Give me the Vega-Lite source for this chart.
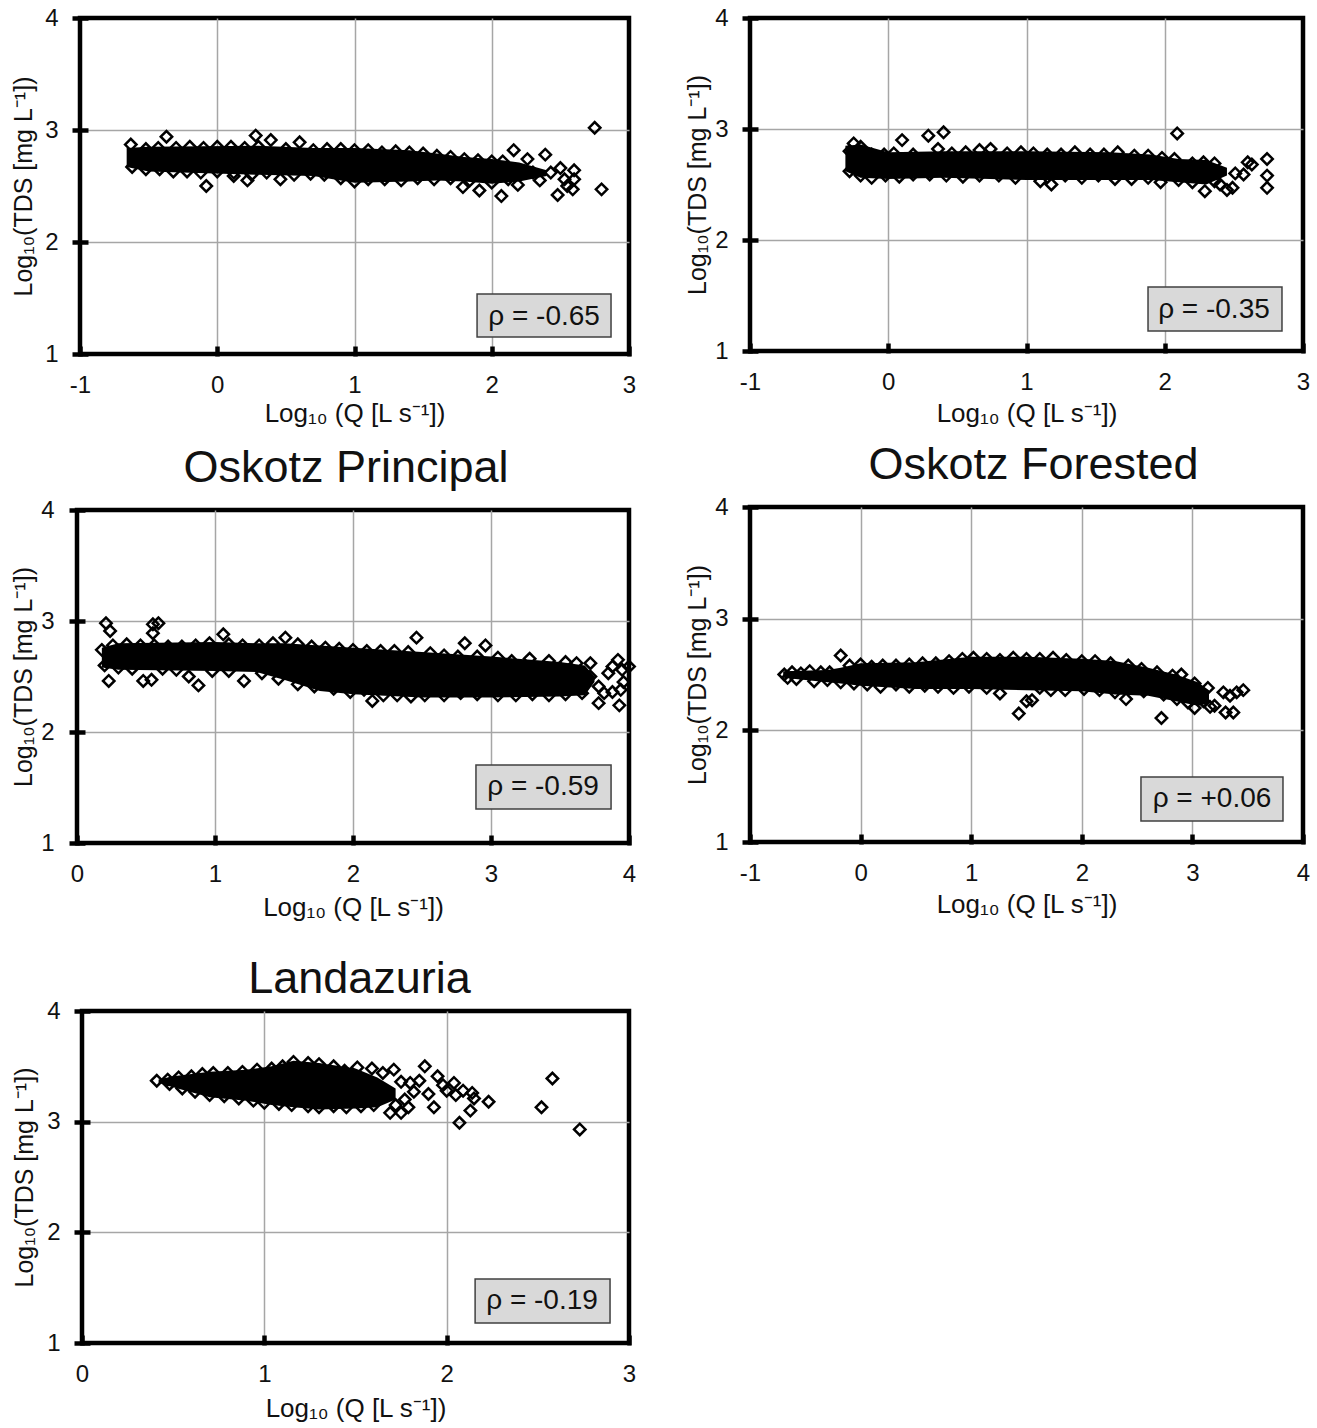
{"$schema":"https://vega.github.io/schema/vega-lite/v6.json","background":"white","padding":{"left":3,"top":3,"right":0,"bottom":0},
"config":{"font":"Liberation Sans","view":{"stroke":"#000","strokeWidth":4.5},"axis":{"grid":true,"gridColor":"#a6a6a6","gridWidth":1.5,"domain":false,"tickColor":"#000","tickWidth":4.5,"labelFontSize":24,"labelColor":"#111","titleFontWeight":"normal","titleColor":"#111","labelFlush":false,"labelOverlap":false,"labelExpr":"''+datum.value"},"axisX":{"titleFontSize":26},"axisY":{"titleFontSize":25},"title":{"fontSize":45,"fontWeight":"normal","color":"#111","offset":7}},
"spacing":41,
"hconcat":[{"spacing":31,"vconcat":[{"spacing":14,"vconcat":[{"spacing":0,"hconcat":[
{"width":2,"height":1,"view":{"stroke":null},"data":{"values":[{"q":0}]},"mark":{"type":"point","opacity":0},"encoding":{}},
{"width":549,"height":336,
"encoding":{"x":{"field":"q","type":"quantitative","scale":{"domain":[-1,3],"nice":false,"zero":false},"axis":{"title":"Log₁₀ (Q [L s⁻¹])","values":[-1,0,1,2,3],"offset":-8,"tickSize":10,"labelPadding":17,"titlePadding":3,"gridOpacity":{"condition":{"test":"datum.value==-1||datum.value==3","value":0},"value":1}}},"y":{"field":"t","type":"quantitative","scale":{"domain":[1,4],"nice":false,"zero":false},"axis":{"title":"Log₁₀(TDS [mg L⁻¹])","values":[1,2,3,4],"offset":-8,"tickSize":16,"labelPadding":14,"titlePadding":8,"gridOpacity":{"condition":{"test":"datum.value==1||datum.value==4","value":0},"value":1}}}},
"layer":[
{"data":{"values":[{"q":-0.66,"t":2.84,"t2":2.67},{"q":-0.5,"t":2.85,"t2":2.63},{"q":0.3,"t":2.86,"t2":2.6},{"q":0.7,"t":2.84,"t2":2.59},{"q":1,"t":2.84,"t2":2.53},{"q":1.4,"t":2.82,"t2":2.54},{"q":1.6,"t":2.79,"t2":2.55},{"q":1.8,"t":2.76,"t2":2.54},{"q":2,"t":2.74,"t2":2.52},{"q":2.2,"t":2.71,"t2":2.54},{"q":2.4,"t":2.64,"t2":2.59}]},"mark":{"type":"area","color":"#000"},"encoding":{"y2":{"field":"t2"}}},
{"data":{"values":[{"q":-0.63,"t":2.87},{"q":-0.52,"t":2.83},{"q":-0.43,"t":2.84},{"q":-0.37,"t":2.94},{"q":-0.3,"t":2.84},{"q":-0.2,"t":2.85},{"q":-0.1,"t":2.84},{"q":0,"t":2.85},{"q":0.1,"t":2.85},{"q":0.2,"t":2.84},{"q":0.28,"t":2.95},{"q":0.3,"t":2.85},{"q":0.39,"t":2.91},{"q":0.5,"t":2.83},{"q":0.6,"t":2.89},{"q":0.7,"t":2.82},{"q":0.8,"t":2.83},{"q":0.9,"t":2.83},{"q":1,"t":2.82},{"q":1.1,"t":2.82},{"q":1.2,"t":2.8},{"q":1.3,"t":2.81},{"q":1.4,"t":2.8},{"q":1.5,"t":2.79},{"q":1.6,"t":2.77},{"q":1.7,"t":2.76},{"q":1.8,"t":2.74},{"q":1.9,"t":2.73},{"q":2,"t":2.72},{"q":2.08,"t":2.72},{"q":2.16,"t":2.82},{"q":2.26,"t":2.74},{"q":2.39,"t":2.78},{"q":2.75,"t":3.02},{"q":2.8,"t":2.47},{"q":2.07,"t":2.41},{"q":2.48,"t":2.42},{"q":2.59,"t":2.47},{"q":2.6,"t":2.64},{"q":2.5,"t":2.66},{"q":2.6,"t":2.56},{"q":2.53,"t":2.56},{"q":2.55,"t":2.5},{"q":2.43,"t":2.62},{"q":2.35,"t":2.55},{"q":2.19,"t":2.51},{"q":1.91,"t":2.46},{"q":1.79,"t":2.49},{"q":2.3,"t":2.62},{"q":2.2,"t":2.63},{"q":-0.08,"t":2.5},{"q":0.46,"t":2.56},{"q":0.22,"t":2.55},{"q":0.12,"t":2.59},{"q":-0.62,"t":2.67},{"q":-0.52,"t":2.65},{"q":-0.42,"t":2.65},{"q":-0.32,"t":2.63},{"q":-0.22,"t":2.63},{"q":-0.12,"t":2.62},{"q":0,"t":2.63},{"q":0.12,"t":2.62},{"q":0.25,"t":2.6},{"q":0.36,"t":2.62},{"q":0.56,"t":2.6},{"q":0.68,"t":2.61},{"q":0.78,"t":2.6},{"q":0.9,"t":2.57},{"q":1,"t":2.54},{"q":1.1,"t":2.56},{"q":1.22,"t":2.56},{"q":1.34,"t":2.55},{"q":1.46,"t":2.57},{"q":1.58,"t":2.56},{"q":1.7,"t":2.57},{"q":1.84,"t":2.55},{"q":2,"t":2.53},{"q":2.12,"t":2.56}]},"mark":{"type":"point","shape":"diamond","size":130,"filled":false,"stroke":"#000","strokeWidth":2.5,"opacity":1}},
{"data":{"values":[{"q":1.893,"q2":2.869,"t":1.536,"t2":1.152}]},"mark":{"type":"rect","fill":"#d9d9d9","stroke":"#404040","strokeWidth":1.5},"encoding":{"x2":{"field":"q2"},"y2":{"field":"t2"}}},
{"data":{"values":[{"q":2.381,"t":1.33,"label":"ρ = -0.65"}]},"mark":{"type":"text","fontSize":28,"color":"#111"},"encoding":{"text":{"field":"label"}}}
]}]},{"spacing":0,"hconcat":[
{"width":2,"height":1,"view":{"stroke":null},"data":{"values":[{"q":0}]},"mark":{"type":"point","opacity":0},"encoding":{}},
{"width":552,"height":333,"title":{"text":"Oskotz Principal","dx":-7},
"encoding":{"x":{"field":"q","type":"quantitative","scale":{"domain":[0,4],"nice":false,"zero":false},"axis":{"title":"Log₁₀ (Q [L s⁻¹])","values":[0,1,2,3,4],"offset":-8,"tickSize":10,"labelPadding":17,"titlePadding":8,"gridOpacity":{"condition":{"test":"datum.value==0||datum.value==4","value":0},"value":1}}},"y":{"field":"t","type":"quantitative","scale":{"domain":[1,4],"nice":false,"zero":false},"axis":{"title":"Log₁₀(TDS [mg L⁻¹])","values":[1,2,3,4],"offset":-8,"tickSize":16,"labelPadding":15,"titlePadding":4,"gridOpacity":{"condition":{"test":"datum.value==1||datum.value==4","value":0},"value":1}}}},
"layer":[
{"data":{"values":[{"q":0.18,"t":2.76,"t2":2.58},{"q":0.3,"t":2.8,"t2":2.56},{"q":1,"t":2.81,"t2":2.55},{"q":1.3,"t":2.8,"t2":2.54},{"q":1.5,"t":2.8,"t2":2.47},{"q":1.76,"t":2.78,"t2":2.37},{"q":2,"t":2.76,"t2":2.34},{"q":2.5,"t":2.72,"t2":2.31},{"q":3,"t":2.68,"t2":2.31},{"q":3.5,"t":2.63,"t2":2.32},{"q":3.68,"t":2.6,"t2":2.33},{"q":3.75,"t":2.5,"t2":2.45}]},"mark":{"type":"area","color":"#000"},"encoding":{"y2":{"field":"t2"}}},
{"data":{"values":[{"q":0.18,"t":2.74},{"q":0.26,"t":2.78},{"q":0.36,"t":2.79},{"q":0.46,"t":2.78},{"q":0.56,"t":2.78},{"q":0.66,"t":2.77},{"q":0.76,"t":2.77},{"q":0.86,"t":2.78},{"q":0.96,"t":2.8},{"q":1.1,"t":2.79},{"q":1.2,"t":2.78},{"q":1.32,"t":2.78},{"q":1.42,"t":2.8},{"q":1.6,"t":2.79},{"q":1.7,"t":2.77},{"q":1.8,"t":2.76},{"q":1.9,"t":2.75},{"q":2,"t":2.74},{"q":2.1,"t":2.73},{"q":2.2,"t":2.73},{"q":2.3,"t":2.73},{"q":2.4,"t":2.72},{"q":2.56,"t":2.71},{"q":2.66,"t":2.69},{"q":2.76,"t":2.68},{"q":2.9,"t":2.68},{"q":3.05,"t":2.67},{"q":3.15,"t":2.64},{"q":3.28,"t":2.66},{"q":3.42,"t":2.64},{"q":3.54,"t":2.63},{"q":3.62,"t":2.62},{"q":0.21,"t":2.98},{"q":0.24,"t":2.91},{"q":0.59,"t":2.98},{"q":0.55,"t":2.97},{"q":0.55,"t":2.89},{"q":0.23,"t":2.46},{"q":0.48,"t":2.46},{"q":0.54,"t":2.47},{"q":0.88,"t":2.42},{"q":0.81,"t":2.5},{"q":1.21,"t":2.46},{"q":1.06,"t":2.88},{"q":1.51,"t":2.85},{"q":2.46,"t":2.85},{"q":2.81,"t":2.8},{"q":2.96,"t":2.78},{"q":2.14,"t":2.28},{"q":3.78,"t":2.26},{"q":3.93,"t":2.24},{"q":3.82,"t":2.35},{"q":3.88,"t":2.36},{"q":3.96,"t":2.45},{"q":3.85,"t":2.53},{"q":3.92,"t":2.65},{"q":4,"t":2.59},{"q":3.88,"t":2.59},{"q":3.95,"t":2.56},{"q":3.72,"t":2.62},{"q":3.78,"t":2.41},{"q":3.94,"t":2.38},{"q":0.2,"t":2.6},{"q":0.3,"t":2.58},{"q":0.4,"t":2.57},{"q":0.62,"t":2.57},{"q":0.72,"t":2.56},{"q":0.98,"t":2.55},{"q":1.1,"t":2.55},{"q":1.34,"t":2.53},{"q":1.46,"t":2.48},{"q":1.6,"t":2.43},{"q":1.72,"t":2.41},{"q":1.86,"t":2.39},{"q":1.98,"t":2.36},{"q":2.08,"t":2.38},{"q":2.22,"t":2.33},{"q":2.32,"t":2.33},{"q":2.42,"t":2.32},{"q":2.52,"t":2.33},{"q":2.66,"t":2.33},{"q":2.78,"t":2.35},{"q":2.9,"t":2.34},{"q":3.05,"t":2.33},{"q":3.18,"t":2.33},{"q":3.3,"t":2.34},{"q":3.42,"t":2.33},{"q":3.54,"t":2.34},{"q":3.66,"t":2.35},{"q":3.72,"t":2.5}]},"mark":{"type":"point","shape":"diamond","size":130,"filled":false,"stroke":"#000","strokeWidth":2.5,"opacity":1}},
{"data":{"values":[{"q":2.891,"q2":3.87,"t":1.703,"t2":1.306}]},"mark":{"type":"rect","fill":"#d9d9d9","stroke":"#404040","strokeWidth":1.5},"encoding":{"x2":{"field":"q2"},"y2":{"field":"t2"}}},
{"data":{"values":[{"q":3.377,"t":1.505,"label":"ρ = -0.59"}]},"mark":{"type":"text","fontSize":28,"color":"#111"},"encoding":{"text":{"field":"label"}}}
]}]}]},{"spacing":0,"hconcat":[
{"width":4,"height":1,"view":{"stroke":null},"data":{"values":[{"q":0}]},"mark":{"type":"point","opacity":0},"encoding":{}},
{"width":547,"height":332,"title":{"text":"Landazuria","dx":4,"offset":-3},
"encoding":{"x":{"field":"q","type":"quantitative","scale":{"domain":[0,3],"nice":false,"zero":false},"axis":{"title":"Log₁₀ (Q [L s⁻¹])","values":[0,1,2,3],"offset":-8,"tickSize":10,"labelPadding":17,"titlePadding":9,"gridOpacity":{"condition":{"test":"datum.value==0||datum.value==3","value":0},"value":1}}},"y":{"field":"t","type":"quantitative","scale":{"domain":[1,4],"nice":false,"zero":false},"axis":{"title":"Log₁₀(TDS [mg L⁻¹])","values":[1,2,3,4],"offset":-8,"tickSize":16,"labelPadding":14,"titlePadding":9,"gridOpacity":{"condition":{"test":"datum.value==1||datum.value==4","value":0},"value":1}}}},
"layer":[
{"data":{"values":[{"q":0.42,"t":3.38,"t2":3.35},{"q":0.5,"t":3.41,"t2":3.31},{"q":0.7,"t":3.45,"t2":3.22},{"q":0.9,"t":3.47,"t2":3.19},{"q":1.04,"t":3.5,"t2":3.15},{"q":1.16,"t":3.55,"t2":3.13},{"q":1.3,"t":3.53,"t2":3.11},{"q":1.5,"t":3.48,"t2":3.12},{"q":1.62,"t":3.4,"t2":3.13},{"q":1.72,"t":3.3,"t2":3.2}]},"mark":{"type":"area","color":"#000"},"encoding":{"y2":{"field":"t2"}}},
{"data":{"values":[{"q":0.41,"t":3.37},{"q":0.47,"t":3.38},{"q":0.53,"t":3.4},{"q":0.6,"t":3.41},{"q":0.66,"t":3.43},{"q":0.72,"t":3.44},{"q":0.8,"t":3.44},{"q":0.88,"t":3.45},{"q":0.96,"t":3.47},{"q":1.04,"t":3.48},{"q":1.1,"t":3.5},{"q":1.16,"t":3.54},{"q":1.24,"t":3.53},{"q":1.3,"t":3.52},{"q":1.38,"t":3.5},{"q":1.44,"t":3.46},{"q":1.51,"t":3.49},{"q":1.59,"t":3.48},{"q":1.65,"t":3.44},{"q":1.71,"t":3.47},{"q":1.75,"t":3.36},{"q":1.8,"t":3.35},{"q":1.85,"t":3.37},{"q":1.88,"t":3.5},{"q":1.95,"t":3.41},{"q":1.98,"t":3.33},{"q":2,"t":3.28},{"q":2.04,"t":3.35},{"q":2.05,"t":3.24},{"q":2.09,"t":3.28},{"q":2.14,"t":3.26},{"q":2.15,"t":3.21},{"q":2.23,"t":3.18},{"q":2.13,"t":3.1},{"q":2.07,"t":2.99},{"q":1.93,"t":3.13},{"q":1.9,"t":3.25},{"q":2.58,"t":3.39},{"q":2.52,"t":3.13},{"q":2.73,"t":2.93},{"q":1.69,"t":3.08},{"q":1.75,"t":3.08},{"q":1.79,"t":3.13},{"q":1.77,"t":3.2},{"q":1.72,"t":3.15},{"q":1.82,"t":3.27},{"q":0.48,"t":3.34},{"q":0.55,"t":3.3},{"q":0.62,"t":3.27},{"q":0.7,"t":3.24},{"q":0.78,"t":3.23},{"q":0.86,"t":3.21},{"q":0.94,"t":3.19},{"q":1,"t":3.17},{"q":1.08,"t":3.16},{"q":1.15,"t":3.15},{"q":1.24,"t":3.14},{"q":1.3,"t":3.13},{"q":1.38,"t":3.14},{"q":1.45,"t":3.13},{"q":1.53,"t":3.14},{"q":1.6,"t":3.15}]},"mark":{"type":"point","shape":"diamond","size":130,"filled":false,"stroke":"#000","strokeWidth":2.5,"opacity":1}},
{"data":{"values":[{"q":2.156,"q2":2.896,"t":1.578,"t2":1.181}]},"mark":{"type":"rect","fill":"#d9d9d9","stroke":"#404040","strokeWidth":1.5},"encoding":{"x2":{"field":"q2"},"y2":{"field":"t2"}}},
{"data":{"values":[{"q":2.523,"t":1.38,"label":"ρ = -0.19"}]},"mark":{"type":"text","fontSize":28,"color":"#111"},"encoding":{"text":{"field":"label"}}}
]}]}
]},
{"spacing":11,"vconcat":[
{"width":553,"height":333,
"encoding":{"x":{"field":"q","type":"quantitative","scale":{"domain":[-1,3],"nice":false,"zero":false},"axis":{"title":"Log₁₀ (Q [L s⁻¹])","values":[-1,0,1,2,3],"offset":-8,"tickSize":10,"labelPadding":17,"titlePadding":6,"gridOpacity":{"condition":{"test":"datum.value==-1||datum.value==3","value":0},"value":1}}},"y":{"field":"t","type":"quantitative","scale":{"domain":[1,4],"nice":false,"zero":false},"axis":{"title":"Log₁₀(TDS [mg L⁻¹])","values":[1,2,3,4],"offset":-8,"tickSize":16,"labelPadding":14,"titlePadding":4,"gridOpacity":{"condition":{"test":"datum.value==1||datum.value==4","value":0},"value":1}}}},
"layer":[
{"data":{"values":[{"q":-0.31,"t":2.85,"t2":2.62},{"q":-0.2,"t":2.86,"t2":2.56},{"q":0,"t":2.79,"t2":2.55},{"q":0.4,"t":2.8,"t2":2.56},{"q":1,"t":2.8,"t2":2.54},{"q":1.6,"t":2.79,"t2":2.54},{"q":1.9,"t":2.77,"t2":2.54},{"q":2.1,"t":2.73,"t2":2.52},{"q":2.3,"t":2.72,"t2":2.5},{"q":2.45,"t":2.65,"t2":2.58}]},"mark":{"type":"area","color":"#000"},"encoding":{"y2":{"field":"t2"}}},
{"data":{"values":[{"q":-0.28,"t":2.8},{"q":-0.25,"t":2.87},{"q":-0.2,"t":2.84},{"q":-0.12,"t":2.77},{"q":-0.03,"t":2.77},{"q":0.04,"t":2.78},{"q":0.1,"t":2.9},{"q":0.18,"t":2.77},{"q":0.29,"t":2.94},{"q":0.4,"t":2.97},{"q":0.36,"t":2.82},{"q":0.46,"t":2.78},{"q":0.56,"t":2.79},{"q":0.66,"t":2.81},{"q":0.74,"t":2.82},{"q":0.86,"t":2.78},{"q":0.96,"t":2.79},{"q":1.05,"t":2.78},{"q":1.15,"t":2.77},{"q":1.25,"t":2.77},{"q":1.35,"t":2.79},{"q":1.46,"t":2.77},{"q":1.56,"t":2.77},{"q":1.66,"t":2.79},{"q":1.78,"t":2.76},{"q":1.88,"t":2.76},{"q":1.98,"t":2.74},{"q":2.07,"t":2.73},{"q":2.09,"t":2.96},{"q":2.2,"t":2.69},{"q":2.28,"t":2.7},{"q":2.36,"t":2.69},{"q":2.74,"t":2.73},{"q":2.74,"t":2.58},{"q":2.74,"t":2.47},{"q":2.6,"t":2.7},{"q":2.63,"t":2.68},{"q":2.57,"t":2.59},{"q":2.51,"t":2.6},{"q":2.45,"t":2.45},{"q":2.49,"t":2.47},{"q":2.29,"t":2.44},{"q":1.18,"t":2.5},{"q":1.1,"t":2.53},{"q":1.97,"t":2.52},{"q":2.4,"t":2.5},{"q":-0.28,"t":2.62},{"q":-0.2,"t":2.58},{"q":-0.12,"t":2.56},{"q":-0.02,"t":2.58},{"q":0.08,"t":2.57},{"q":0.18,"t":2.59},{"q":0.3,"t":2.59},{"q":0.42,"t":2.58},{"q":0.54,"t":2.57},{"q":0.66,"t":2.58},{"q":0.8,"t":2.58},{"q":0.92,"t":2.56},{"q":1.28,"t":2.58},{"q":1.4,"t":2.56},{"q":1.52,"t":2.58},{"q":1.64,"t":2.55},{"q":1.76,"t":2.55},{"q":1.88,"t":2.56},{"q":2.1,"t":2.54},{"q":2.2,"t":2.52},{"q":2.36,"t":2.53}]},"mark":{"type":"point","shape":"diamond","size":130,"filled":false,"stroke":"#000","strokeWidth":2.5,"opacity":1}},
{"data":{"values":[{"q":1.879,"q2":2.848,"t":1.577,"t2":1.18}]},"mark":{"type":"rect","fill":"#d9d9d9","stroke":"#404040","strokeWidth":1.5},"encoding":{"x2":{"field":"q2"},"y2":{"field":"t2"}}},
{"data":{"values":[{"q":2.356,"t":1.37,"label":"ρ = -0.35"}]},"mark":{"type":"text","fontSize":28,"color":"#111"},"encoding":{"text":{"field":"label"}}}
]},
{"width":553,"height":335,"title":{"text":"Oskotz Forested","dx":7},
"encoding":{"x":{"field":"q","type":"quantitative","scale":{"domain":[-1,4],"nice":false,"zero":false},"axis":{"title":"Log₁₀ (Q [L s⁻¹])","values":[-1,0,1,2,3,4],"offset":-8,"tickSize":10,"labelPadding":17,"titlePadding":6,"gridOpacity":{"condition":{"test":"datum.value==-1||datum.value==4","value":0},"value":1}}},"y":{"field":"t","type":"quantitative","scale":{"domain":[1,4],"nice":false,"zero":false},"axis":{"title":"Log₁₀(TDS [mg L⁻¹])","values":[1,2,3,4],"offset":-8,"tickSize":16,"labelPadding":14,"titlePadding":4,"gridOpacity":{"condition":{"test":"datum.value==1||datum.value==4","value":0},"value":1}}}},
"layer":[
{"data":{"values":[{"q":-0.7,"t":2.53,"t2":2.47},{"q":-0.3,"t":2.54,"t2":2.43},{"q":-0.18,"t":2.56,"t2":2.42},{"q":0,"t":2.6,"t2":2.4},{"q":0.5,"t":2.61,"t2":2.37},{"q":1,"t":2.66,"t2":2.37},{"q":1.5,"t":2.66,"t2":2.36},{"q":2,"t":2.64,"t2":2.35},{"q":2.3,"t":2.62,"t2":2.32},{"q":2.6,"t":2.56,"t2":2.31},{"q":2.85,"t":2.5,"t2":2.26},{"q":3.05,"t":2.43,"t2":2.22},{"q":3.15,"t":2.36,"t2":2.24}]},"mark":{"type":"area","color":"#000"},"encoding":{"y2":{"field":"t2"}}},
{"data":{"values":[{"q":-0.69,"t":2.5},{"q":-0.62,"t":2.52},{"q":-0.54,"t":2.51},{"q":-0.46,"t":2.53},{"q":-0.36,"t":2.52},{"q":-0.28,"t":2.52},{"q":-0.18,"t":2.67},{"q":-0.1,"t":2.58},{"q":0,"t":2.59},{"q":0.1,"t":2.57},{"q":0.2,"t":2.58},{"q":0.32,"t":2.58},{"q":0.44,"t":2.59},{"q":0.56,"t":2.6},{"q":0.68,"t":2.6},{"q":0.8,"t":2.62},{"q":0.92,"t":2.64},{"q":1.02,"t":2.65},{"q":1.14,"t":2.64},{"q":1.26,"t":2.63},{"q":1.38,"t":2.65},{"q":1.5,"t":2.64},{"q":1.62,"t":2.64},{"q":1.74,"t":2.65},{"q":1.86,"t":2.63},{"q":2,"t":2.62},{"q":2.12,"t":2.62},{"q":2.26,"t":2.6},{"q":2.42,"t":2.58},{"q":2.54,"t":2.55},{"q":2.68,"t":2.52},{"q":2.82,"t":2.49},{"q":2.9,"t":2.5},{"q":3.02,"t":2.42},{"q":3.14,"t":2.38},{"q":1.43,"t":2.15},{"q":1.5,"t":2.26},{"q":1.55,"t":2.27},{"q":1.26,"t":2.33},{"q":1.85,"t":2.36},{"q":2.72,"t":2.11},{"q":2.4,"t":2.28},{"q":3.3,"t":2.16},{"q":3.37,"t":2.16},{"q":3.28,"t":2.34},{"q":3.46,"t":2.36},{"q":3.4,"t":2.34},{"q":3.34,"t":2.31},{"q":3.2,"t":2.22},{"q":3.02,"t":2.2},{"q":3.16,"t":2.21},{"q":3.1,"t":2.26},{"q":-0.66,"t":2.47},{"q":-0.58,"t":2.46},{"q":-0.42,"t":2.44},{"q":-0.3,"t":2.45},{"q":-0.18,"t":2.43},{"q":-0.06,"t":2.42},{"q":0.06,"t":2.41},{"q":0.18,"t":2.39},{"q":0.32,"t":2.41},{"q":0.44,"t":2.39},{"q":0.58,"t":2.4},{"q":0.7,"t":2.39},{"q":0.84,"t":2.38},{"q":0.98,"t":2.39},{"q":1.14,"t":2.38},{"q":1.62,"t":2.38},{"q":1.72,"t":2.36},{"q":2.02,"t":2.37},{"q":2.16,"t":2.36},{"q":2.3,"t":2.34},{"q":2.56,"t":2.35},{"q":2.74,"t":2.32},{"q":2.86,"t":2.28},{"q":2.96,"t":2.25}]},"mark":{"type":"point","shape":"diamond","size":130,"filled":false,"stroke":"#000","strokeWidth":2.5,"opacity":1}},
{"data":{"values":[{"q":2.535,"q2":3.819,"t":1.582,"t2":1.188}]},"mark":{"type":"rect","fill":"#d9d9d9","stroke":"#404040","strokeWidth":1.5},"encoding":{"x2":{"field":"q2"},"y2":{"field":"t2"}}},
{"data":{"values":[{"q":3.177,"t":1.385,"label":"ρ = +0.06"}]},"mark":{"type":"text","fontSize":28,"color":"#111"},"encoding":{"text":{"field":"label"}}}
]}
]}
]}
